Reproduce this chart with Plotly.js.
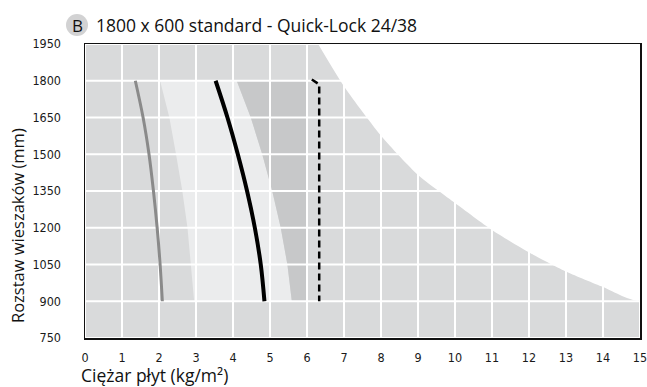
<!DOCTYPE html>
<html>
<head>
<meta charset="utf-8">
<script src="https://cdn.plot.ly/plotly-3.0.1.min.js"></script>
<style>html,body{margin:0;padding:0;background:#fff;}#chart{width:647px;height:387px;}
.xtick text,.ytick text{font-stretch:condensed;}</style>
</head>
<body>
<div id="chart"></div>
<script>
// ---- data ----
const xTicks = [0,1,2,3,4,5,6,7,8,9,10,11,12,13,14,15];
const yTicks = [750,900,1050,1200,1350,1500,1650,1800,1950];

// upper limit curve (white area above it)
const boundX = [6.30,7.03,8.03,9.0,10.0,11.0,12.03,13.03,14.0,15];
const boundY = [1950,1770,1570,1415,1301,1191,1097,1019,958,905];

// band rows (hanger spacing)
const bandY     = [1800,1650,1500,1350,1200,1050,900];
const lightLeft = [2.03,2.28,2.46,2.63,2.77,2.87,2.95];
const darkLeft  = [4.10,4.48,4.79,5.06,5.29,5.47,5.59];
const darkRight = [6,6];
const darkRightY = [900,1800];

// curves
const grayX  = [1.36,1.57,1.73,1.85,1.95,2.03,2.09];
const blackX = [3.53,3.85,4.13,4.38,4.59,4.75,4.85];
const dashX  = [6.13,6.33,6.33];
const dashY  = [1805,1785,900];

const titleText = "1800 x 600 standard - Quick-Lock 24/38";
const badgeText = "B";
const xTitle = "Ciężar płyt (kg/m²)";
const yTitle = "Rozstaw wieszaków (mm)";

// ---- build traces ----
const xmin = xTicks[0], xmax = xTicks[xTicks.length-1];
const ymin = yTicks[0], ymax = yTicks[yTicks.length-1];

const traces = [];
traces.push({
  x: boundX.concat([xmax, xmax]),
  y: boundY.concat([ymax, ymax]),
  mode:'lines', fill:'toself', fillcolor:'#ffffff',
  line:{width:0, color:'rgba(0,0,0,0)', shape:'spline', smoothing:0.6},
  hoverinfo:'skip', showlegend:false
});
traces.push({
  x: lightLeft.concat(darkLeft.slice().reverse()),
  y: bandY.concat(bandY.slice().reverse()),
  mode:'lines', fill:'toself', fillcolor:'#ebeced',
  line:{width:0, color:'rgba(0,0,0,0)'},
  hoverinfo:'skip', showlegend:false
});
traces.push({
  x: darkLeft.concat(darkRight),
  y: bandY.concat(darkRightY),
  mode:'lines', fill:'toself', fillcolor:'#c7c8c9',
  line:{width:0, color:'rgba(0,0,0,0)'},
  hoverinfo:'skip', showlegend:false
});
const gx = [], gy = [];
xTicks.forEach(t => { gx.push(t, t, null); gy.push(ymin, ymax, null); });
yTicks.forEach(t => { gx.push(xmin, xmax, null); gy.push(t, t, null); });
traces.push({x:gx, y:gy, mode:'lines', line:{color:'#ffffff', width:2}, hoverinfo:'skip', showlegend:false, connectgaps:false});

traces.push({x:grayX, y:bandY, mode:'lines', line:{color:'#8a8a8a', width:3, shape:'spline', smoothing:1}, hoverinfo:'skip', showlegend:false});
traces.push({x:blackX, y:bandY, mode:'lines', line:{color:'#000000', width:4, shape:'spline', smoothing:1}, hoverinfo:'skip', showlegend:false});
traces.push({x:dashX, y:dashY, mode:'lines', line:{color:'#000000', width:2.5, dash:'7px,4px'}, hoverinfo:'skip', showlegend:false});

const L = 85, R = 7, T = 44, B = 49, W = 647, H = 387;
const pw = W - L - R, ph = H - T - B;
const px = v => (v - L) / pw;
const py = v => (H - B - v) / ph;

const tickFont = {family:'"Liberation Sans Narrow", "DejaVu Sans", sans-serif', size:12.5, color:'#1a1a1a'};
const textFont = {family:'"Open Sans", "Noto Sans", sans-serif', color:'#111'};

const layout = {
  width: W, height: H,
  margin:{l:L, r:R, t:T, b:B, pad:0},
  paper_bgcolor:'#ffffff',
  plot_bgcolor:'#d9dadb',
  xaxis:{
    range:[xmin, xmax], tickvals:xTicks, ticktext:xTicks.map(String),
    showgrid:false, zeroline:false,
    showline:true, linecolor:'#111', linewidth:1.5, mirror:true,
    ticks:'outside', ticklen:7, tickcolor:'rgba(0,0,0,0)',
    tickfont:tickFont, ticklabeloverflow:'allow', fixedrange:true
  },
  yaxis:{
    range:[ymin, ymax], tickvals:yTicks, ticktext:yTicks.map(String),
    showgrid:false, zeroline:false,
    showline:true, linecolor:'#111', linewidth:1.5, mirror:true,
    ticks:'outside', ticklen:20, tickcolor:'rgba(0,0,0,0)',
    tickfont:tickFont, ticklabeloverflow:'allow', fixedrange:true
  },
  shapes:[{
    type:'circle', xref:'paper', yref:'paper',
    xsizemode:'pixel', ysizemode:'pixel',
    xanchor:px(77), yanchor:py(25),
    x0:-11, x1:11, y0:-11, y1:11,
    fillcolor:'#d2d2d3', line:{width:0}
  }],
  annotations:[
    {xref:'paper', yref:'paper', x:px(77), y:py(25), xanchor:'center', yanchor:'middle',
     text:badgeText, showarrow:false, font:Object.assign({size:17}, textFont)},
    {xref:'paper', yref:'paper', x:px(94), y:py(25), xanchor:'left', yanchor:'middle',
     text:titleText, showarrow:false, font:Object.assign({size:17.5}, textFont)},
    {xref:'paper', yref:'paper', x:px(79), y:py(375), xanchor:'left', yanchor:'middle',
     text:xTitle, showarrow:false, font:Object.assign({size:17.5}, textFont)},
    {xref:'paper', yref:'paper', x:px(17), y:py(226), xanchor:'center', yanchor:'middle',
     text:yTitle, textangle:-90, showarrow:false, font:Object.assign({size:16.5}, textFont)}
  ]
};

Plotly.newPlot('chart', traces, layout, {staticPlot:true, displayModeBar:false});
</script>
</body>
</html>
